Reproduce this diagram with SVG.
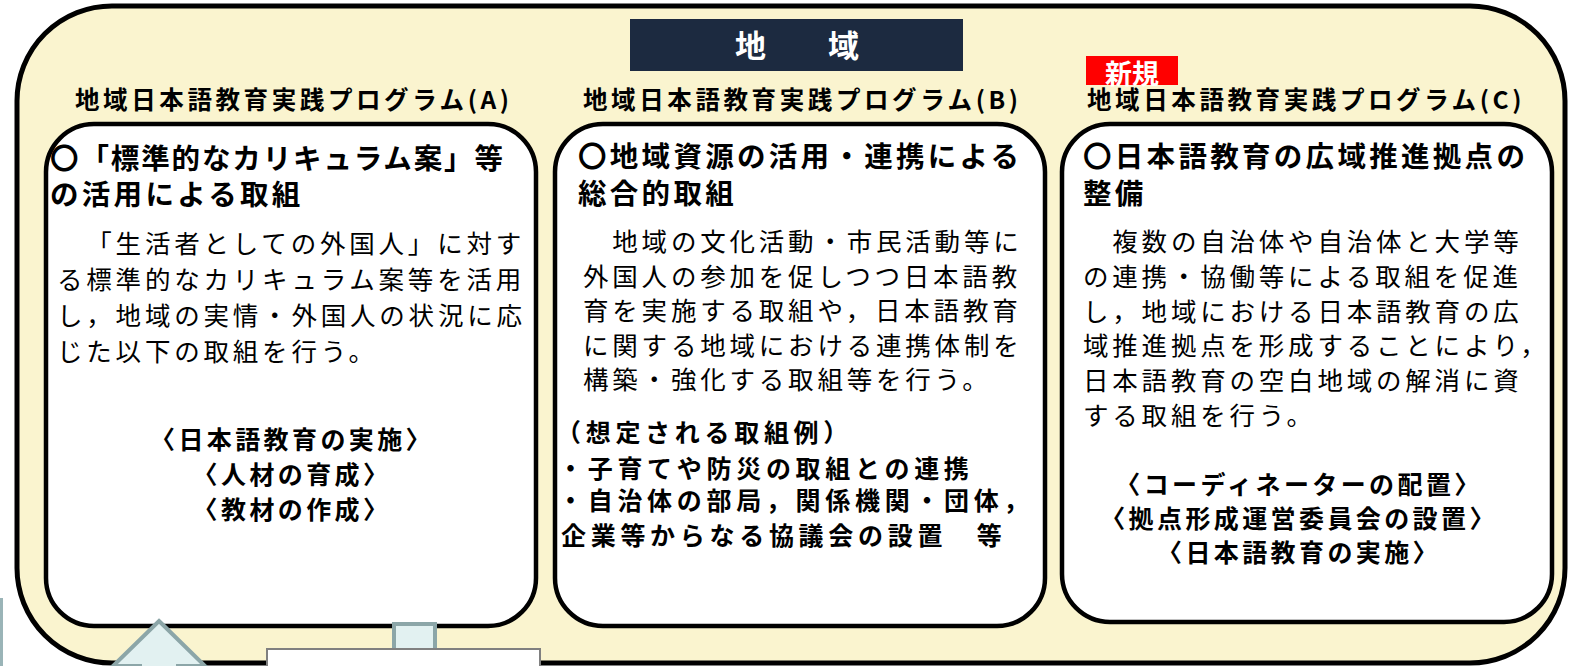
<svg xmlns="http://www.w3.org/2000/svg" width="1569" height="666" viewBox="0 0 1569 666">
<style>
text{font-family:"Noto Sans CJK JP","Noto Sans CJK SC",sans-serif;fill:#000;text-spacing-trim:space-all}
.lbl{font-size:24.5px;font-weight:bold;letter-spacing:3.6px}
.hd{font-size:28.5px;font-weight:bold;letter-spacing:3.3px}
.bd{font-size:25.5px;letter-spacing:3.8px}
.bb{font-size:25px;font-weight:bold;letter-spacing:3.4px}
.ex{font-size:25px;font-weight:bold;letter-spacing:4.7px}
.box{fill:#fff;stroke:#000;stroke-width:4.5}
.arr{fill:#e2f1f1;stroke:#8ca6a8;stroke-width:4}
</style>
<g id="region">
<rect x="17" y="6" width="1548" height="657" rx="95" ry="95" fill="#faf4cf" stroke="#000" stroke-width="5"/>
<rect x="630" y="19" width="333" height="52" fill="#1c2a40"/>
<text x="797" y="57" text-anchor="middle" style="font-size:31px;font-weight:bold;fill:#fff" textLength="124" lengthAdjust="spacing">地　域</text>
</g>
<g id="progA">
<text class="lbl" x="75" y="109">地域日本語教育実践プログラム(A)</text>
<rect class="box" x="46" y="124" width="490" height="502" rx="48"/>
<text class="hd" x="50" y="169" textLength="453" lengthAdjust="spacing" style="letter-spacing:0">〇「標準的なカリキュラム案」等</text>
<text class="hd" x="50" y="205">の活用による取組</text>
<text class="bd" x="57" y="253">　「生活者としての外国人」に対す</text>
<text class="bd" x="57" y="289">る標準的なカリキュラム案等を活用</text>
<text class="bd" x="57" y="325">し，地域の実情・外国人の状況に応</text>
<text class="bd" x="57" y="361">じた以下の取組を行う。</text>
<text class="bb" x="292" y="449" text-anchor="middle">〈日本語教育の実施〉</text>
<text class="bb" x="292" y="484" text-anchor="middle">〈人材の育成〉</text>
<text class="bb" x="292" y="519" text-anchor="middle">〈教材の作成〉</text>
</g>
<g id="progB">
<text class="lbl" x="583" y="109">地域日本語教育実践プログラム(B)</text>
<rect class="box" x="555" y="124" width="490" height="502" rx="48"/>
<text class="hd" x="578" y="167">〇地域資源の活用・連携による</text>
<text class="hd" x="578" y="204">総合的取組</text>
<text class="bd" x="583" y="251">　地域の文化活動・市民活動等に</text>
<text class="bd" x="583" y="285.5">外国人の参加を促しつつ日本語教</text>
<text class="bd" x="583" y="320">育を実施する取組や，日本語教育</text>
<text class="bd" x="583" y="354.5">に関する地域における連携体制を</text>
<text class="bd" x="583" y="389">構築・強化する取組等を行う。</text>
<text class="ex" x="556" y="442">（想定される取組例）</text>
<text class="ex" x="558" y="478">・子育てや防災の取組との連携</text>
<text class="ex" x="558" y="510">・自治体の部局，関係機関・団体，</text>
<text class="ex" x="561" y="545">企業等からなる協議会の設置　等</text>
</g>
<g id="progC">
<rect x="1086" y="56" width="92" height="29" fill="#ff0000"/>
<text x="1132" y="84" text-anchor="middle" style="font-size:27px;font-weight:bold;fill:#fff">新規</text>
<text class="lbl" x="1087" y="109">地域日本語教育実践プログラム(C)</text>
<rect class="box" x="1062" y="124" width="490" height="498" rx="48"/>
<text class="hd" x="1083" y="167">〇日本語教育の広域推進拠点の</text>
<text class="hd" x="1083" y="204">整備</text>
<text class="bd" x="1083" y="251">　複数の自治体や自治体と大学等</text>
<text class="bd" x="1083" y="286">の連携・協働等による取組を促進</text>
<text class="bd" x="1083" y="321">し，地域における日本語教育の広</text>
<text class="bd" x="1083" y="355">域推進拠点を形成することにより，</text>
<text class="bd" x="1083" y="390">日本語教育の空白地域の解消に資</text>
<text class="bd" x="1083" y="425">する取組を行う。</text>
<text class="bb" x="1299" y="494" text-anchor="middle">〈コーディネーターの配置〉</text>
<text class="bb" x="1299" y="528" text-anchor="middle">〈拠点形成運営委員会の設置〉</text>
<text class="bb" x="1299" y="562" text-anchor="middle">〈日本語教育の実施〉</text>
</g>
<g id="connectors">
<polygon class="arr" points="159,621 205,666 178,666 178,700 140,700 140,666 113,666"/>
<rect class="arr" x="394" y="624" width="41" height="40"/>
<rect x="267" y="649" width="273" height="30" fill="#fff" stroke="#808080" stroke-width="2"/>
<rect x="0" y="598" width="3" height="68" fill="#9ab4b7"/>
</g>
</svg>
